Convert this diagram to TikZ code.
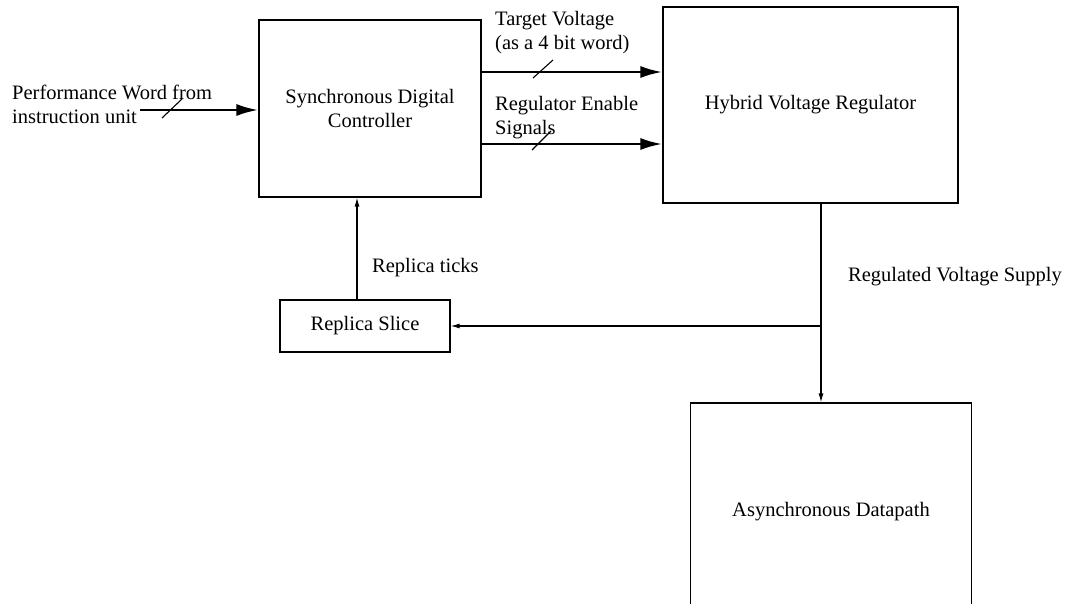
\documentclass[tikz,border=0pt]{standalone}
\usepackage{fontspec}
\setmainfont{Liberation Serif}
\usetikzlibrary{arrows.meta}
\begin{document}
\begin{tikzpicture}[x=1pt,y=-1pt,every node/.style={font=\fontsize{20.5}{24}\selectfont},>={Latex[length=9pt,width=5pt]},
  blk/.style={draw,line width=1.1pt,align=center,inner sep=0pt},
  bus/.style={line width=2.8pt,-{Latex[length=22pt,width=12pt]}},
  sig/.style={line width=1.1pt,->},
  lbl/.style={anchor=west,align=left,inner sep=0pt}]
\clip (0,0) rectangle (1068,604);
% blocks
\node[blk,minimum width=222pt,minimum height=177pt] (ctrl) at (370,108.5) {Synchronous Digital\\Controller};
\node[blk,minimum width=295pt,minimum height=196pt] (hvr) at (810.5,105) {Hybrid Voltage Regulator};
\node[blk,minimum width=170pt,minimum height=52pt] (rep) at (365,326) {Replica Slice};
\node[blk,minimum width=281pt,minimum height=218pt] (dp) at (831,512) {Asynchronous Datapath};
% performance word in
\node[lbl] (perf) at (12,104) {Performance Word from\\instruction unit};
\coordinate (in) at (140,110);
\draw[bus] (in) -- (in -| ctrl.west);
\draw[line width=1.1pt] (162,118) -- ++(20,-19);
% controller to regulator
\coordinate (tv) at (481,72);
\coordinate (en) at (481,144);
\draw[bus] (tv) -- (tv -| hvr.west);
\draw[bus] (en) -- (en -| hvr.west);
\draw[line width=1.1pt] (533,78) -- ++(20,-18);
\draw[line width=1.1pt] (532,150) -- ++(19,-19);
\node[lbl] (tvl) at (495,33) {Target Voltage\\(as a 4 bit word)};
\node[lbl] (enl) at (495,118) {Regulator Enable\\Signals};
% supply and replica feedback
\coordinate (tap) at (821,326);
\draw[sig] (hvr.south -| tap) -- (dp.north -| tap);
\draw[sig] (tap) -- (rep.east);
\node[lbl] (vsup) at (848,277) {Regulated Voltage Supply};
\draw[sig] ([xshift=-8pt]rep.north) -- ([xshift=-8pt]rep.north |- ctrl.south);
\node[lbl] (tick) at (372,268) {Replica ticks};
\end{tikzpicture}
\end{document}
